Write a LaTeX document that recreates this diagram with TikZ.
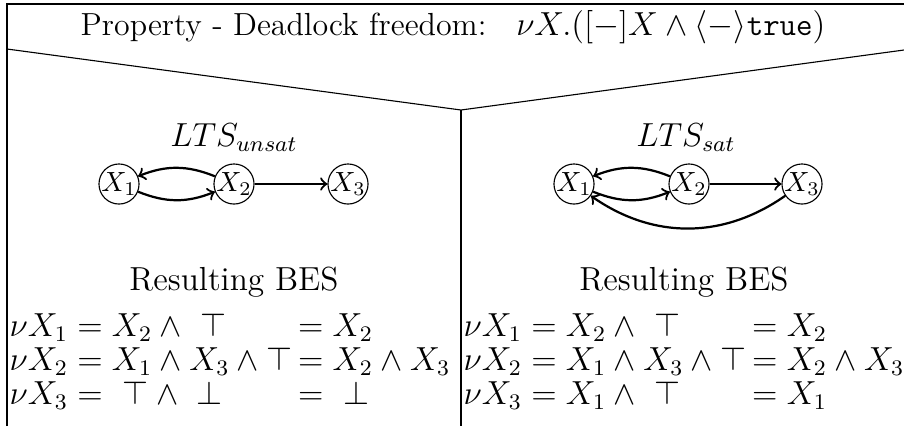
\documentclass[tikz,border=0pt]{standalone}
\usepackage{amsmath}
\usepackage{amssymb}
\usepackage{tikz}
\usetikzlibrary{positioning}

\tikzset{
  state/.style={circle,draw,inner sep=-0.3pt,minimum size=13.5pt},
  trans/.style={->,thick},
  big/.style={font=\fontsize{12}{12.2}\selectfont}
}

\begin{document}
\begin{tikzpicture}[x=0.36pt,y=-0.36pt]
\useasboundingbox (0,0) rectangle (904,426);

% frame and dividers
\draw (7,426) -- (7,4) -- (904,4);
\draw (7,49) -- (461,110) -- (904,50);
\draw (461,110) -- (461,426);

\node[anchor=base,font=\fontsize{11.5}{13}\selectfont](title) at (453,35) {Property - Deadlock freedom: \enskip $\nu X.([-]X \wedge \langle - \rangle \texttt{true})$};

% unsatisfying LTS
\node[anchor=base,big](llts) at (234,146) {$LTS_{unsat}$};
\node[state](l1) at (119,184) {$X_1$};
\node[state](l2) at (234,184) {$X_2$};
\node[state](l3) at (348,184) {$X_3$};
\draw[trans] (l2) to[bend right=22] (l1);
\draw[trans] (l1) to[bend right=22] (l2);
\draw[trans] (l2) -- (l3);

\node[anchor=base,big](lres) at (234,290) {Resulting BES};
\node[anchor=base west,inner sep=0pt,big](lbes) at (9,372) {$\begin{array}{@{}l@{\,}l@{}}
\nu X_1 = X_2 \wedge\ \top & = X_2\\
\nu X_2 = X_1 \wedge X_3 \wedge \top & = X_2 \wedge X_3\\
\nu X_3 = \ \top \wedge\ \bot & = \ \bot
\end{array}$};

% satisfying LTS
\node[anchor=base,big](rlts) at (686,146) {$LTS_{sat}$};
\node[state](r1) at (574,184) {$X_1$};
\node[state](r2) at (689,184) {$X_2$};
\node[state](r3) at (802,184) {$X_3$};
\draw[trans] (r2) to[bend right=22] (r1);
\draw[trans] (r1) to[bend right=22] (r2);
\draw[trans] (r2) -- (r3);
\draw[trans] (r3) to[bend left=35] (r1);

\node[anchor=base,big](rres) at (684,290) {Resulting BES};
\node[anchor=base west,inner sep=0pt,big](rbes) at (463,372) {$\begin{array}{@{}l@{\,}l@{}}
\nu X_1 = X_2 \wedge\ \top & = X_2\\
\nu X_2 = X_1 \wedge X_3 \wedge \top & = X_2 \wedge X_3\\
\nu X_3 = X_1 \wedge\ \top & = X_1
\end{array}$};
\end{tikzpicture}
\end{document}
